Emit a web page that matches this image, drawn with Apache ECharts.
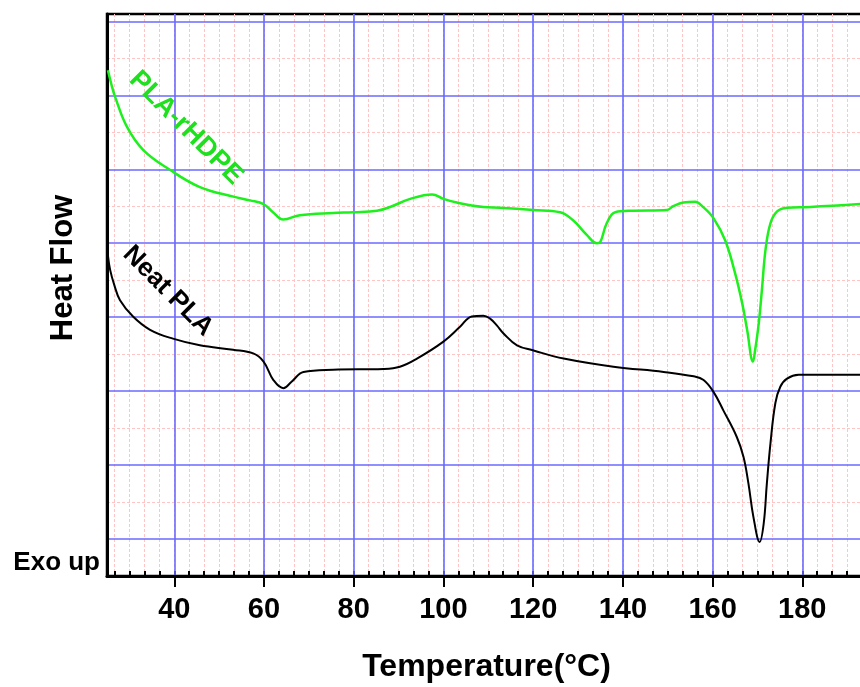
<!DOCTYPE html>
<html>
<head>
<meta charset="utf-8">
<title>DSC</title>
<script src="https://cdn.jsdelivr.net/npm/echarts@6.0.0/dist/echarts.min.js"></script>
<style>
  html, body { margin: 0; padding: 0; background: #fff; }
  #main { width: 860px; height: 687px; }
</style>
</head>
<body>
<div id="main"></div>
<script>
// 横轴刻度 (°C)
const majorTicks = [40, 60, 80, 100, 120, 140, 160, 180];
// 纵轴网格（无标签）
const blueLevels = [0.5, 1.5, 2.5, 3.5, 4.5, 5.5, 6.5, 7.5];
const pinkLevels = [1, 2, 3, 4, 5, 6, 7];

// PLA-rHDPE 曲线
const greenT = [25.2, 26.1, 26.8, 29.4, 33.1, 39.1, 45.7, 53.2, 56.9, 59.9, 62.0, 64.3, 68.0, 75.4, 79.9, 85.2, 88.1, 92.6, 97.5, 100.0, 103.0, 108.9, 112.6, 120.0, 126.0, 128.9, 132.0, 134.2, 135.0, 136.4, 138.3, 142.3, 149.8, 151.2, 153.5, 156.1, 157.9, 160.2, 162.8, 165.0, 166.6, 167.7, 169.0, 169.5, 170.3, 171.0, 171.8, 172.9, 174.4, 176.6, 181.8, 193.0];
const greenHF = [6.84, 6.62, 6.48, 6.08, 5.76, 5.49, 5.26, 5.13, 5.08, 5.03, 4.92, 4.82, 4.88, 4.91, 4.92, 4.94, 4.99, 5.10, 5.16, 5.10, 5.05, 4.99, 4.98, 4.95, 4.92, 4.81, 4.61, 4.50, 4.52, 4.77, 4.92, 4.94, 4.95, 5.00, 5.05, 5.06, 4.99, 4.84, 4.54, 4.10, 3.69, 3.33, 2.90, 3.06, 3.42, 3.87, 4.41, 4.77, 4.93, 4.98, 4.99, 5.03];

// Neat PLA 曲线
const blackT = [25.0, 25.2, 25.7, 26.6, 27.9, 30.8, 34.6, 39.7, 45.7, 53.1, 57.6, 59.9, 62.1, 64.3, 66.2, 68.8, 75.4, 86.6, 90.3, 94.1, 100.0, 103.7, 106.3, 108.9, 110.4, 111.9, 113.4, 116.4, 120.1, 126.8, 137.9, 149.1, 155.8, 158.0, 160.2, 162.4, 165.4, 166.9, 168.0, 169.1, 170.5, 171.4, 172.1, 172.9, 174.0, 175.1, 176.6, 179.2, 193.0];
const blackHF = [4.50, 4.34, 4.14, 3.94, 3.73, 3.51, 3.33, 3.21, 3.12, 3.06, 3.01, 2.90, 2.65, 2.54, 2.63, 2.76, 2.79, 2.80, 2.83, 2.94, 3.17, 3.37, 3.51, 3.52, 3.48, 3.39, 3.28, 3.12, 3.05, 2.94, 2.83, 2.76, 2.70, 2.65, 2.49, 2.24, 1.88, 1.61, 1.25, 0.80, 0.46, 0.71, 1.25, 1.79, 2.34, 2.56, 2.67, 2.72, 2.72];

const xMin = 25, xMax = 200;
// 小刻度：每个大间隔分 6 份
const minorTicks = [];
for (let i = -4; i <= 48; i++) {
  const t = Math.round((40 + i * 20 / 6) * 1000) / 1000;
  if (t > xMin && t < xMax) minorTicks.push(t);
}

const FONT = 'Liberation Sans, Arial, sans-serif';
const BLUE = '#6a6aff';
const PINK = '#ffc4c4';

function pairs(xs, ys) {
  return xs.map((x, i) => [x, ys[i]]);
}

const chart = echarts.init(document.getElementById('main'), null, { renderer: 'canvas' });

const option = {
  backgroundColor: '#fff',
  animation: false,
  grid: {
    left: 107, top: 14, right: -32, bottom: 111,
    outerBoundsMode: 'none', containLabel: false,
    show: true, borderColor: '#000', borderWidth: 2.5,
    backgroundColor: 'transparent'
  },
  xAxis: [
    {
      type: 'value', min: xMin, max: xMax, position: 'bottom', z: 1,
      axisLine: { show: true, lineStyle: { color: '#000', width: 3 } },
      axisTick: { show: true, customValues: majorTicks, length: 11, lineStyle: { color: '#000', width: 2 } },
      axisLabel: {
        customValues: majorTicks, margin: 19, color: '#000',
        fontFamily: FONT, fontWeight: 'bold', fontSize: 29
      },
      splitLine: { show: true, lineStyle: { color: BLUE, width: 1.6 } },
      name: 'Temperature(°C)', nameLocation: 'middle', nameGap: 75,
      nameTextStyle: {
        color: '#000', fontFamily: FONT, fontWeight: 'bold', fontSize: 32,
        padding: [0, 26, 0, 0]
      }
    },
    {
      // 小刻度 + 粉色虚线网格，挪到底边
      type: 'value', min: xMin, max: xMax, position: 'top', offset: -562, z: 0,
      axisLine: { show: false },
      axisTick: { show: true, customValues: minorTicks, length: 5, lineStyle: { color: '#000', width: 2 } },
      axisLabel: { show: false },
      splitLine: { show: true, lineStyle: { color: PINK, width: 1, type: [3, 2] } }
    }
  ],
  yAxis: [
    {
      type: 'value', min: 0, max: 7.6, position: 'left', z: 1,
      axisLine: { show: true, lineStyle: { color: '#000', width: 3 } },
      axisTick: { show: false, customValues: blueLevels },
      axisLabel: { show: false },
      splitLine: { show: true, lineStyle: { color: BLUE, width: 1.6 } }
    },
    {
      type: 'value', min: 0, max: 7.6, position: 'right', z: 0,
      axisLine: { show: false },
      axisTick: { show: false, customValues: pinkLevels },
      axisLabel: { show: false },
      splitLine: { show: true, lineStyle: { color: PINK, width: 1, type: [3, 2] } }
    }
  ],
  series: [
    {
      name: 'PLA-rHDPE', type: 'line', xAxisIndex: 0, yAxisIndex: 0,
      data: pairs(greenT, greenHF), showSymbol: false, smooth: 0.4,
      lineStyle: { color: '#1ef01e', width: 2.5 }, z: 3
    },
    {
      name: 'Neat PLA', type: 'line', xAxisIndex: 0, yAxisIndex: 0,
      data: pairs(blackT, blackHF), showSymbol: false, smooth: 0.4,
      lineStyle: { color: '#000', width: 2 }, z: 3
    }
  ],
  graphic: [
    {
      type: 'text', x: 63, y: 268, rotation: Math.PI / 2, z: 10,
      style: { text: 'Heat Flow', fill: '#000', font: 'bold 31px ' + FONT, align: 'center', verticalAlign: 'middle' }
    },
    {
      type: 'text', x: 100, y: 563, z: 10,
      style: { text: 'Exo up', fill: '#000', font: 'bold 26px ' + FONT, align: 'right', verticalAlign: 'middle' }
    },
    {
      type: 'text', x: 186, y: 128, rotation: -Math.PI / 4, z: 10,
      style: { text: 'PLA-rHDPE', fill: '#1ee01e', font: 'bold 27px ' + FONT, align: 'center', verticalAlign: 'middle' }
    },
    {
      type: 'text', x: 168, y: 291, rotation: -Math.PI / 4, z: 10,
      style: { text: 'Neat PLA', fill: '#000', font: 'bold 26px ' + FONT, align: 'center', verticalAlign: 'middle' }
    }
  ]
};

chart.setOption(option);
</script>
</body>
</html>
